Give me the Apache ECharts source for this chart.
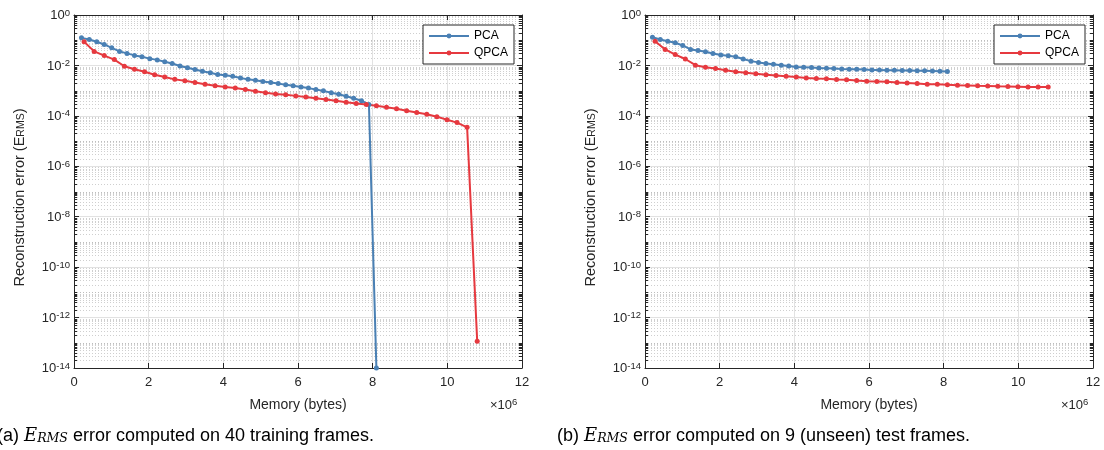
<!DOCTYPE html>
<html>
<head>
<meta charset="utf-8">
<script src="https://cdn.jsdelivr.net/npm/echarts@6/dist/echarts.min.js"></script>
<style>
html,body{margin:0;padding:0;background:#fff;}
#chart{width:1104px;height:450px;}
</style>
</head>
<body>
<div id="chart"></div>
<script>
// Memory in units of 1e6 bytes
const pcaMem = [0.20,0.41,0.61,0.81,1.01,1.22,1.42,1.62,1.82,2.03,2.23,2.43,2.63,2.84,3.04,3.24,3.44,3.65,3.85,4.05,4.25,4.46,4.66,4.86,5.06,5.27,5.47,5.67,5.87,6.08,6.28,6.48,6.68,6.89,7.09,7.29,7.49,7.70,7.90,8.10];
const qpcaMem = [0.27,0.54,0.81,1.08,1.35,1.62,1.89,2.16,2.43,2.70,2.97,3.24,3.51,3.78,4.05,4.32,4.59,4.86,5.13,5.40,5.67,5.94,6.21,6.48,6.75,7.02,7.29,7.56,7.83,8.10,8.37,8.64,8.91,9.18,9.45,9.72,9.99,10.26,10.53,10.80];

// (a) 40 training frames
const pcaTrain = [0.124,0.107,0.087,0.068,0.050,0.036,0.030,0.025,0.022,0.0186,0.0166,0.0141,0.0120,0.0095,0.0081,0.0069,0.0059,0.0051,0.0044,0.0041,0.0037,0.0032,0.0028,0.0026,0.0023,0.0021,0.0019,0.0017,0.00155,0.0014,0.00126,0.0011,0.00098,0.00083,0.00072,0.0006,0.0005,0.0004,0.00028,1e-14];
const qpcaTrain = [0.087,0.036,0.0245,0.017,0.0093,0.0071,0.0056,0.0043,0.0035,0.0028,0.00245,0.0021,0.0018,0.00155,0.0014,0.00126,0.0011,0.00095,0.00083,0.00074,0.00068,0.00062,0.00056,0.0005,0.00045,0.0004,0.00035,0.00031,0.00028,0.00025,0.00022,0.00019,0.00016,0.000135,0.000115,0.000093,0.00007,0.000054,0.000035,1.15e-13];

// (b) 9 unseen test frames
const pcaTest = [0.132,0.107,0.091,0.079,0.062,0.043,0.039,0.035,0.0295,0.026,0.024,0.022,0.018,0.0148,0.0132,0.012,0.0112,0.0102,0.0095,0.0087,0.0085,0.0083,0.0079,0.0078,0.0076,0.0072,0.0071,0.0070,0.0069,0.0066,0.0066,0.0065,0.0064,0.0063,0.0063,0.0062,0.0061,0.006,0.0059,0.0058];
const qpcaTest = [0.091,0.043,0.027,0.018,0.0102,0.0085,0.0076,0.0065,0.0056,0.0051,0.0047,0.0043,0.0040,0.0037,0.0035,0.0032,0.0030,0.00295,0.00275,0.0027,0.0025,0.00235,0.0023,0.00225,0.0021,0.0020,0.0019,0.0018,0.00178,0.0017,0.00162,0.0016,0.00155,0.00153,0.00148,0.00146,0.00144,0.00141,0.0014,0.00138];

const xTickLabels = ['0','2','4','6','8','10','12'];
const yDecades = [-14,-13,-12,-11,-10,-9,-8,-7,-6,-5,-4,-3,-2,-1,0];
const seriesNames = ['PCA','QPCA'];
const captions = ['(a) ', '(b) '];
const captionTails = [' error computed on 40 training frames.', ' error computed on 9 (unseen) test frames.'];

const BLUE = '#4a80b4', RED = '#e6393f', AX = '#262626';
const FONT = '"Liberation Sans", Arial, Helvetica, sans-serif';
const SERIF = '"DejaVu Serif", "Liberation Serif", serif';

// minor grid values: m*10^e, skip labeled major ticks (even decades)
const minorVals = [];
yDecades.forEach(e => {
  if (e === 0) return;
  for (let m = 1; m <= 9; m++) {
    if (m === 1 && e % 2 === 0) continue;
    minorVals.push([0, m * Math.pow(10, e), m === 1 ? 1 : 0]);
  }
});

function zip(xs, ys) { return xs.map((x, i) => [x, ys[i]]); }

const gridW = 448, gridH = 353, gridTop = 15;
const grids = [{left: 74, top: gridTop, width: gridW, height: gridH}, {left: 645, top: gridTop, width: gridW, height: gridH}];

const supRich = {
  b: {fontSize: 13, color: AX, fontFamily: FONT, lineHeight: 14, padding: [6, 0, 0, 0], verticalAlign: 'bottom'},
  s: {fontSize: 9.5, color: AX, fontFamily: FONT, lineHeight: 10, verticalAlign: 'top'}
};

const xAxes = [], yAxes = [];
[0, 1].forEach(g => {
  xAxes.push({
    type: 'value', gridIndex: g, min: 0, max: 12, interval: 2, position: 'bottom',
    axisLine: {show: true, onZero: false, lineStyle: {color: AX, width: 1}},
    axisTick: {show: true, inside: true, length: 5, lineStyle: {color: AX}},
    axisLabel: {color: AX, fontSize: 13, fontFamily: FONT, margin: 8,
      formatter: v => xTickLabels[Math.round(v / 2)]},
    splitLine: {show: true, lineStyle: {color: '#e2e2e2', width: 1}},
    name: 'Memory (bytes)', nameLocation: 'middle', nameGap: 30,
    nameTextStyle: {color: AX, fontSize: 14, fontFamily: FONT}
  });
  xAxes.push({
    type: 'value', gridIndex: g, min: 0, max: 12, interval: 2, position: 'top',
    axisLine: {show: true, onZero: false, lineStyle: {color: AX, width: 1}},
    axisTick: {show: true, inside: true, length: 5, lineStyle: {color: AX}},
    axisLabel: {show: false}, splitLine: {show: false}
  });
  yAxes.push({
    type: 'log', logBase: 10, gridIndex: g, min: 1e-14, max: 1, interval: 2, splitNumber: 7, position: 'left',
    axisLine: {show: true, onZero: false, lineStyle: {color: AX, width: 1}},
    axisTick: {show: true, inside: true, length: 5, lineStyle: {color: AX}},
    axisLabel: {fontFamily: FONT, margin: 4,
      formatter: v => '{b|10}{s|' + Math.round(Math.log10(v)) + '}', rich: supRich},
    splitLine: {show: true, lineStyle: {color: '#e2e2e2', width: 1}},
    name: 'Reconstruction error (E{sub|RMS})', nameLocation: 'middle', nameGap: 47, nameRotate: 90,
    nameTextStyle: {color: AX, fontSize: 14.5, fontFamily: FONT, padding: [0, 12, 0, 0],
      rich: {sub: {fontSize: 10.5, color: AX, fontFamily: FONT, verticalAlign: 'bottom', lineHeight: 11, padding: [7, 0, 0, 0]}}}
  });
  yAxes.push({
    type: 'log', logBase: 10, gridIndex: g, min: 1e-14, max: 1, interval: 2, splitNumber: 7, position: 'right',
    axisLine: {show: true, onZero: false, lineStyle: {color: AX, width: 1}},
    axisTick: {show: true, inside: true, length: 5, lineStyle: {color: AX}},
    axisLabel: {show: false}, splitLine: {show: false}
  });
});

function minorSeries(g) {
  return {
    type: 'custom', xAxisIndex: g * 2, yAxisIndex: g * 2, silent: true, z: 1, clip: false,
    data: minorVals, encode: {x: 0, y: 1},
    renderItem: function (params, api) {
      const cs = params.coordSys;
      const y = Math.round(api.coord([0, api.value(1)])[1]) + 0.5;
      const dec = api.value(2) === 1;
      return {type: 'group', children: [
        {type: 'line', shape: {x1: cs.x, y1: y, x2: cs.x + cs.width, y2: y},
          style: {stroke: dec ? '#bdbdbd' : '#cfcfcf', lineWidth: 1, lineDash: [1, 2]}},
        {type: 'line', shape: {x1: cs.x, y1: y, x2: cs.x + 3, y2: y}, style: {stroke: AX, lineWidth: 1}},
        {type: 'line', shape: {x1: cs.x + cs.width - 3, y1: y, x2: cs.x + cs.width, y2: y}, style: {stroke: AX, lineWidth: 1}}
      ]};
    }
  };
}

function lineSeries(name, g, xs, ys, color) {
  return {
    name: name, type: 'line', xAxisIndex: g * 2, yAxisIndex: g * 2, z: 3,
    data: zip(xs, ys), symbol: 'circle', symbolSize: 5, showSymbol: true,
    lineStyle: {color: color, width: 2}, itemStyle: {color: color},
    emphasis: {disabled: true}, animation: false, clip: false
  };
}

function legendAt(left) {
  return {
    left: left, top: 25, orient: 'vertical', data: seriesNames,
    itemWidth: 40, itemHeight: 6, itemGap: 5,
    padding: [5, 6, 5, 5],
    backgroundColor: '#fff', borderColor: AX, borderWidth: 1, borderRadius: 0,
    textStyle: {color: '#000', fontSize: 12, fontFamily: FONT},
    selectedMode: false
  };
}

function caption(i, x) {
  return {
    type: 'text', left: x, top: 427,
    style: {
      text: captions[i] + '{it|E}{isub|RMS}' + captionTails[i],
      font: '18px ' + FONT, fill: '#000',
      rich: {
        it: {fontFamily: SERIF, fontStyle: 'italic', fontSize: 18, fill: '#000'},
        isub: {fontFamily: SERIF, fontStyle: 'italic', fontSize: 12.5, fill: '#000', verticalAlign: 'bottom', padding: [6, 0, 0, 0]}
      }
    }
  };
}

function times(x) {
  return {
    type: 'text', left: x, top: 397,
    style: {
      text: '×10{s|6}', font: '13px ' + FONT, fill: AX,
      rich: {s: {fontSize: 9.5, fill: AX, fontFamily: FONT, verticalAlign: 'top', padding: [0, 0, 7, 0]}}
    }
  };
}

const chart = echarts.init(document.getElementById('chart'), null, {renderer: 'canvas'});
chart.setOption({
  animation: false,
  backgroundColor: '#fff',
  grid: grids,
  xAxis: xAxes,
  yAxis: yAxes,
  legend: [legendAt(423), legendAt(994)],
  series: [
    minorSeries(0), minorSeries(1),
    lineSeries('PCA', 0, pcaMem, pcaTrain, BLUE),
    lineSeries('QPCA', 0, qpcaMem, qpcaTrain, RED),
    lineSeries('PCA', 1, pcaMem, pcaTest, BLUE),
    lineSeries('QPCA', 1, qpcaMem, qpcaTest, RED)
  ],
  graphic: [caption(0, -3), caption(1, 557), times(490), times(1061)]
});
</script>
</body>
</html>
